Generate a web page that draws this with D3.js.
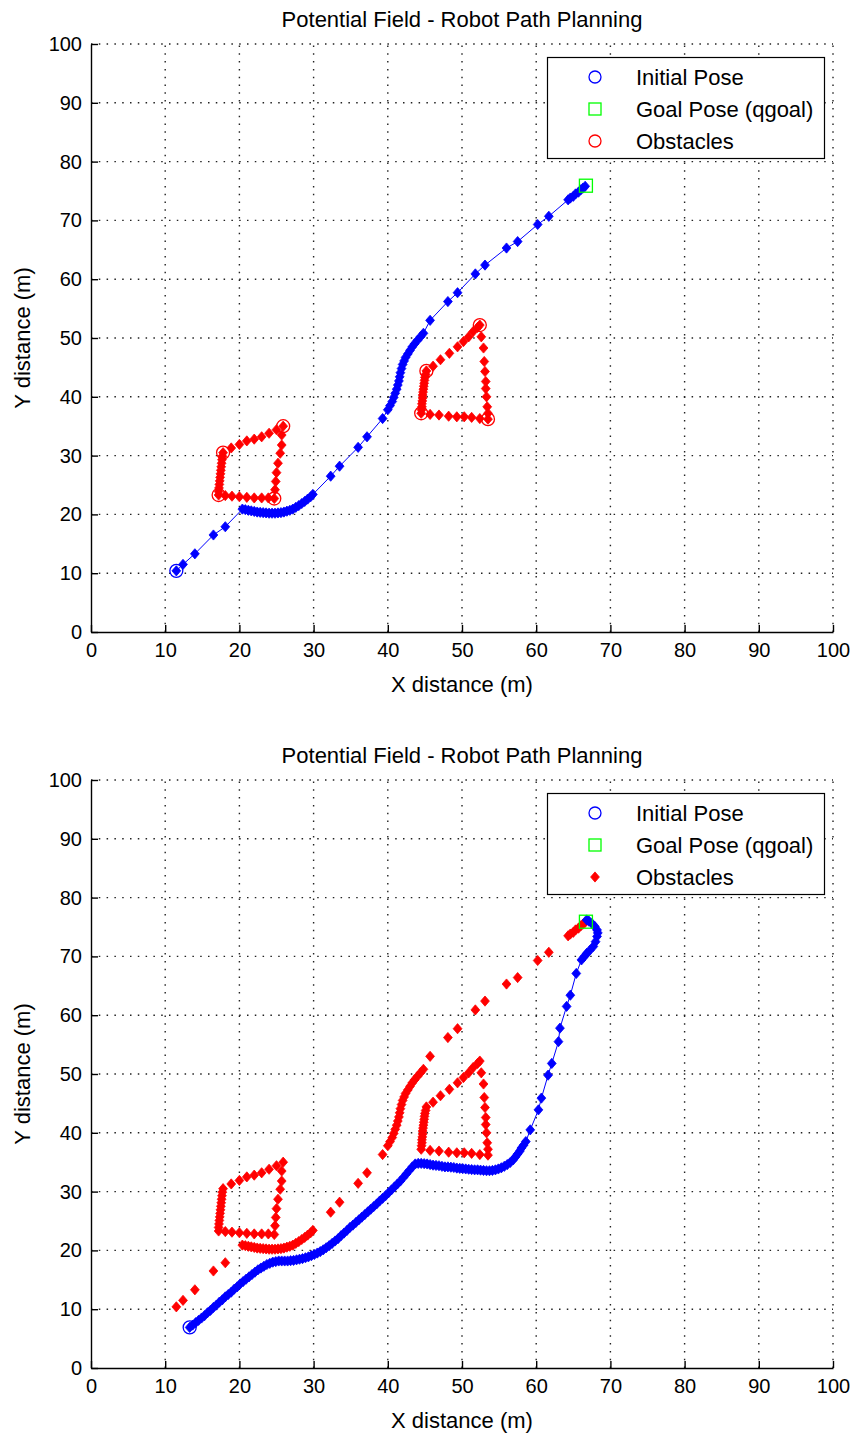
<!DOCTYPE html>
<html>
<head>
<meta charset="utf-8">
<script src="https://cdn.jsdelivr.net/npm/d3@7"></script>
<style>
  html, body { margin: 0; padding: 0; background: #fff; }
  svg { display: block; }
  text { font-family: "Liberation Sans", Arial, sans-serif; fill: #000; }
</style>
</head>
<body>
<svg id="chart" width="856" height="1434"></svg>
<script>
// ---------------- DATA ----------------
const xTicks = [0, 10, 20, 30, 40, 50, 60, 70, 80, 90, 100];
const yTicks = [0, 10, 20, 30, 40, 50, 60, 70, 80, 90, 100];
const titleText = "Potential Field - Robot Path Planning";
const xLabelText = "X distance (m)";
const yLabelText = "Y distance (m)";
const legendLabels = ["Initial Pose", "Goal Pose (qgoal)", "Obstacles"];

const goalPose = [66.7, 75.9];
const initialPoseTop = [11.5, 10.4];
const initialPoseBottom = [13.3, 6.9];

// corner points of the two obstacles (circled in the first plot)
const obstacleVertices = [
  [17.8, 30.5], [25.9, 35.0], [24.7, 22.7], [17.2, 23.3],
  [45.2, 44.4], [52.4, 52.2], [53.5, 36.2], [44.5, 37.2]
];

// sampled points along the obstacle edges
const obstaclePoints = [
  // obstacle 1: top edge
  [17.8, 30.5], [18.9, 31.3], [20.0, 31.9], [21.0, 32.5], [22.0, 32.8], [23.0, 33.2], [24.0, 33.8], [25.0, 34.4], [25.9, 35.0],
  // right edge
  [25.7, 33.5], [25.7, 31.8], [25.5, 30.4], [25.2, 28.7], [25.0, 27.1], [24.9, 25.6], [24.8, 24.2], [24.7, 22.7],
  // bottom edge
  [23.9, 22.8], [23.0, 22.8], [22.0, 22.8], [21.0, 22.9], [20.0, 23.0], [19.0, 23.1], [18.1, 23.2], [17.2, 23.3],
  // left edge (dense)
  [17.2, 23.9], [17.25, 24.5], [17.3, 25.1], [17.35, 25.7], [17.4, 26.3], [17.45, 26.9], [17.5, 27.5],
  [17.55, 28.1], [17.6, 28.7], [17.65, 29.3], [17.7, 29.9],
  // obstacle 2: diagonal top edge
  [45.2, 44.4], [46.1, 45.2], [47.1, 46.3], [48.3, 47.4], [49.4, 48.5], [50.2, 49.4], [50.9, 50.2], [51.5, 51.1], [52.1, 51.8], [52.4, 52.2],
  // right edge
  [52.6, 50.2], [52.9, 48.3], [53.0, 46.0], [53.1, 44.3], [53.2, 42.6], [53.2, 41.4], [53.3, 40.0], [53.4, 38.3], [53.5, 37.2], [53.5, 36.2],
  // bottom edge
  [52.4, 36.3], [51.3, 36.5], [50.3, 36.6], [49.3, 36.6], [48.2, 36.7], [46.9, 36.9], [45.7, 37.0], [44.5, 37.2],
  // left edge (dense)
  [44.55, 37.8], [44.6, 38.3], [44.6, 38.8], [44.65, 39.3], [44.7, 39.8], [44.7, 40.3], [44.75, 40.8], [44.8, 41.3],
  [44.85, 41.8], [44.9, 42.3], [44.95, 42.8], [45.0, 43.3], [45.1, 43.8]
];

// path of the first plot (later treated as an obstacle in the second plot)
const firstPath = [
  [11.5, 10.4], [12.4, 11.5], [14.0, 13.3], [16.5, 16.5], [18.1, 17.9], [20.4, 20.9],
  [20.8, 20.8], [21.2, 20.7], [21.6, 20.6], [22.0, 20.5], [22.4, 20.4], [22.8, 20.35], [23.2, 20.3],
  [23.6, 20.25], [24.0, 20.2], [24.4, 20.2], [24.8, 20.2], [25.2, 20.25], [25.6, 20.3], [26.0, 20.4],
  [26.4, 20.55], [26.8, 20.7], [27.2, 20.9], [27.6, 21.2], [28.0, 21.5], [28.4, 21.85], [28.8, 22.2],
  [29.2, 22.6], [29.6, 23.0], [29.9, 23.4],
  [32.3, 26.5], [33.5, 28.2], [36.0, 31.4], [37.2, 33.2], [39.3, 36.3],
  [40.0, 37.8], [40.3, 38.5], [40.6, 39.2], [40.8, 39.9], [41.0, 40.6], [41.2, 41.3], [41.35, 42.0],
  [41.5, 42.7], [41.6, 43.4], [41.7, 44.1], [41.85, 44.8], [42.0, 45.5], [42.2, 46.1], [42.4, 46.7],
  [42.7, 47.3], [43.0, 47.9], [43.3, 48.5], [43.6, 49.0], [44.0, 49.6], [44.4, 50.2], [44.8, 50.8],
  [45.7, 53.0], [48.1, 56.2], [49.4, 57.7], [51.8, 60.9], [53.1, 62.4], [56.0, 65.3], [57.5, 66.4],
  [60.2, 69.3], [61.7, 70.7],
  [64.3, 73.5], [64.6, 73.8], [65.0, 74.1], [65.3, 74.5], [65.7, 74.8], [66.0, 75.2], [66.3, 75.5], [66.6, 75.8]
];

// path of the second plot
const secondPath = [
  [13.3, 6.9], [13.7, 7.3], [14.1, 7.7], [14.5, 8.1], [14.9, 8.5], [15.3, 8.9], [15.7, 9.4], [16.1, 9.8],
  [16.5, 10.3], [16.9, 10.7], [17.3, 11.2], [17.7, 11.6], [18.1, 12.1], [18.5, 12.5], [18.9, 12.9],
  [19.3, 13.4], [19.7, 13.8], [20.1, 14.3], [20.5, 14.7], [20.9, 15.1], [21.3, 15.5], [21.7, 15.9],
  [22.1, 16.3], [22.5, 16.7], [22.9, 17.0], [23.3, 17.3], [23.7, 17.6], [24.1, 17.8], [24.5, 18.0],
  [24.9, 18.1], [25.3, 18.2], [25.7, 18.2], [26.1, 18.2], [26.5, 18.2], [26.9, 18.25], [27.3, 18.3],
  [27.7, 18.4], [28.1, 18.5], [28.5, 18.6], [28.9, 18.75], [29.3, 18.9], [29.7, 19.1], [30.1, 19.3],
  [30.5, 19.55], [30.9, 19.8], [31.3, 20.1], [31.7, 20.45], [32.1, 20.8], [32.5, 21.2], [32.9, 21.6],
  [33.3, 22.0], [33.7, 22.5], [34.1, 22.95], [34.5, 23.4], [34.9, 23.9], [35.3, 24.3], [35.7, 24.75],
  [36.1, 25.2], [36.5, 25.65], [36.9, 26.1], [37.3, 26.55], [37.7, 27.0], [38.1, 27.45], [38.5, 27.9],
  [38.9, 28.4], [39.3, 28.85], [39.7, 29.3], [40.1, 29.8], [40.5, 30.3], [40.9, 30.8], [41.3, 31.3],
  [41.7, 31.8], [42.1, 32.4], [42.5, 33.0], [42.9, 33.6], [43.3, 34.2], [43.7, 34.7], [44.1, 34.8],
  [44.5, 34.8], [44.9, 34.75], [45.3, 34.7], [45.7, 34.6], [46.1, 34.5], [46.5, 34.45], [46.9, 34.4],
  [47.3, 34.3], [47.7, 34.2], [48.1, 34.2], [48.5, 34.15], [48.9, 34.1], [49.3, 34.0], [49.7, 33.95],
  [50.1, 33.9], [50.5, 33.85], [50.9, 33.8], [51.3, 33.75], [51.7, 33.7], [52.1, 33.7], [52.5, 33.65],
  [52.9, 33.6], [53.3, 33.55], [53.7, 33.55], [54.1, 33.6], [54.5, 33.7], [54.9, 33.85], [55.3, 34.05],
  [55.7, 34.3], [56.1, 34.6], [56.5, 34.95], [56.9, 35.4], [57.2, 35.9], [57.5, 36.4], [57.8, 36.9],
  [58.0, 37.4], [58.3, 37.9], [58.6, 38.5],
  [59.2, 40.5], [60.3, 43.9], [60.7, 45.9], [61.6, 49.8], [62.1, 51.8], [63.0, 55.5], [63.2, 57.8],
  [64.1, 61.5], [64.6, 63.4], [65.4, 67.1], [66.1, 69.4],
  [66.5, 70.0], [66.8, 70.5], [67.2, 71.0], [67.7, 71.7], [68.0, 72.5], [68.2, 73.4], [68.3, 74.0],
  [68.2, 74.5], [67.9, 75.1], [67.5, 75.6], [67.1, 76.0], [66.8, 76.2]
];

// ---------------- DRAWING ----------------
const BLUE = "#0000ff", RED = "#ff0000", GREEN = "#00ff00";
const TICK_FONT = 20;
const TEXT_FONT = 22;
const svg = d3.select("#chart");

function diamondPath(w, h) {
  return `M0,${-h}L${w},0L0,${h}L${-w},0Z`;
}
const DIAMOND = diamondPath(4.4, 5.1);

function drawPanel(top, cfg) {
  const x = d3.scaleLinear().domain([0, 100]).range([91, 833]);
  const y = d3.scaleLinear().domain([0, 100]).range([top + 588, top]);
  const g = svg.append("g");

  // grid
  const grid = g.append("g").attr("stroke", "#222").attr("stroke-width", 1.4)
    .attr("stroke-dasharray", "1.5,6.3");
  grid.selectAll(".gx").data(xTicks.filter(d => d > 0)).join("line")
    .attr("x1", d => x(d)).attr("x2", d => x(d))
    .attr("y1", y(0)).attr("y2", y(100));
  grid.selectAll(".gy").data(yTicks.filter(d => d > 0)).join("line")
    .attr("y1", d => y(d)).attr("y2", d => y(d))
    .attr("x1", x(0)).attr("x2", x(100));

  // axes
  const xAxis = d3.axisBottom(x).tickValues(xTicks).tickSizeInner(-7).tickSizeOuter(0).tickPadding(11);
  const yAxis = d3.axisLeft(y).tickValues(yTicks).tickSizeInner(-7).tickSizeOuter(0).tickPadding(9);
  const gx = g.append("g").attr("transform", `translate(0,${y(0)})`).call(xAxis);
  const gy = g.append("g").attr("transform", `translate(${x(0)},0)`).call(yAxis);
  [gx, gy].forEach(a => {
    a.selectAll("path,line").attr("stroke", "#000").attr("stroke-width", 1.4);
    a.selectAll("text").attr("font-size", TICK_FONT).attr("font-family", '"Liberation Sans", Arial, sans-serif').attr("fill", "#000");
  });

  // title and labels
  g.append("text").attr("x", 462).attr("y", top - 17).attr("text-anchor", "middle")
    .attr("font-size", TEXT_FONT).text(titleText);
  g.append("text").attr("x", 462).attr("y", top + 648).attr("text-anchor", "middle")
    .attr("font-size", TEXT_FONT).text(xLabelText);
  g.append("text").attr("transform", `translate(30,${top + 294}) rotate(-90)`).attr("text-anchor", "middle")
    .attr("font-size", TEXT_FONT).text(yLabelText);

  const plot = g.append("g");
  cfg.draw(plot, x, y);

  // legend
  const lg = g.append("g");
  lg.append("rect").attr("x", 547.5).attr("y", top + 13.5).attr("width", 277).attr("height", 101)
    .attr("fill", "#fff").attr("stroke", "#000").attr("stroke-width", 1.2);
  const rows = [top + 33, top + 65, top + 97];
  legendLabels.forEach((lab, i) => {
    lg.append("text").attr("x", 636).attr("y", rows[i]).attr("dominant-baseline", "central")
      .attr("font-size", TEXT_FONT).text(lab);
  });
  lg.append("circle").attr("cx", 595).attr("cy", rows[0]).attr("r", 6)
    .attr("fill", "none").attr("stroke", BLUE).attr("stroke-width", 1.3);
  lg.append("rect").attr("x", 589).attr("y", rows[1] - 6).attr("width", 12).attr("height", 12)
    .attr("fill", "none").attr("stroke", GREEN).attr("stroke-width", 1.3);
  if (cfg.obstacleLegend === "circle") {
    lg.append("circle").attr("cx", 595).attr("cy", rows[2]).attr("r", 6)
      .attr("fill", "none").attr("stroke", RED).attr("stroke-width", 1.3);
  } else {
    lg.append("path").attr("d", DIAMOND).attr("transform", `translate(595,${rows[2]})`)
      .attr("fill", RED).attr("stroke", RED).attr("stroke-width", 0.8);
  }
}

function drawDiamonds(parent, data, x, y, color) {
  parent.append("g").selectAll("path").data(data).join("path")
    .attr("d", DIAMOND)
    .attr("transform", d => `translate(${x(d[0])},${y(d[1])})`)
    .attr("fill", color).attr("stroke", color).attr("stroke-width", 0.8);
}

// first plot
drawPanel(44, {
  obstacleLegend: "circle",
  draw(p, x, y) {
    const line = d3.line().x(d => x(d[0])).y(d => y(d[1]));
    p.append("path").datum(firstPath).attr("d", line)
      .attr("fill", "none").attr("stroke", BLUE).attr("stroke-width", 1);
    drawDiamonds(p, firstPath, x, y, BLUE);
    drawDiamonds(p, obstaclePoints, x, y, RED);
    p.append("g").selectAll("circle").data(obstacleVertices).join("circle")
      .attr("cx", d => x(d[0])).attr("cy", d => y(d[1])).attr("r", 6.5)
      .attr("fill", "none").attr("stroke", RED).attr("stroke-width", 1.3);
    p.append("circle").attr("cx", x(initialPoseTop[0])).attr("cy", y(initialPoseTop[1])).attr("r", 6.5)
      .attr("fill", "none").attr("stroke", BLUE).attr("stroke-width", 1.3);
    p.append("rect").attr("x", x(goalPose[0]) - 6.5).attr("y", y(goalPose[1]) - 6.5)
      .attr("width", 13).attr("height", 13)
      .attr("fill", "none").attr("stroke", GREEN).attr("stroke-width", 1.3);
  }
});

// second plot
drawPanel(780, {
  obstacleLegend: "diamond",
  draw(p, x, y) {
    const line = d3.line().x(d => x(d[0])).y(d => y(d[1]));
    drawDiamonds(p, firstPath.concat(obstaclePoints), x, y, RED);
    p.append("path").datum(secondPath).attr("d", line)
      .attr("fill", "none").attr("stroke", BLUE).attr("stroke-width", 1);
    drawDiamonds(p, secondPath, x, y, BLUE);
    p.append("circle").attr("cx", x(initialPoseBottom[0])).attr("cy", y(initialPoseBottom[1])).attr("r", 6.5)
      .attr("fill", "none").attr("stroke", BLUE).attr("stroke-width", 1.3);
    p.append("rect").attr("x", x(goalPose[0]) - 6.5).attr("y", y(goalPose[1]) - 6.5)
      .attr("width", 13).attr("height", 13)
      .attr("fill", "none").attr("stroke", GREEN).attr("stroke-width", 1.3);
  }
});
</script>
</body>
</html>
